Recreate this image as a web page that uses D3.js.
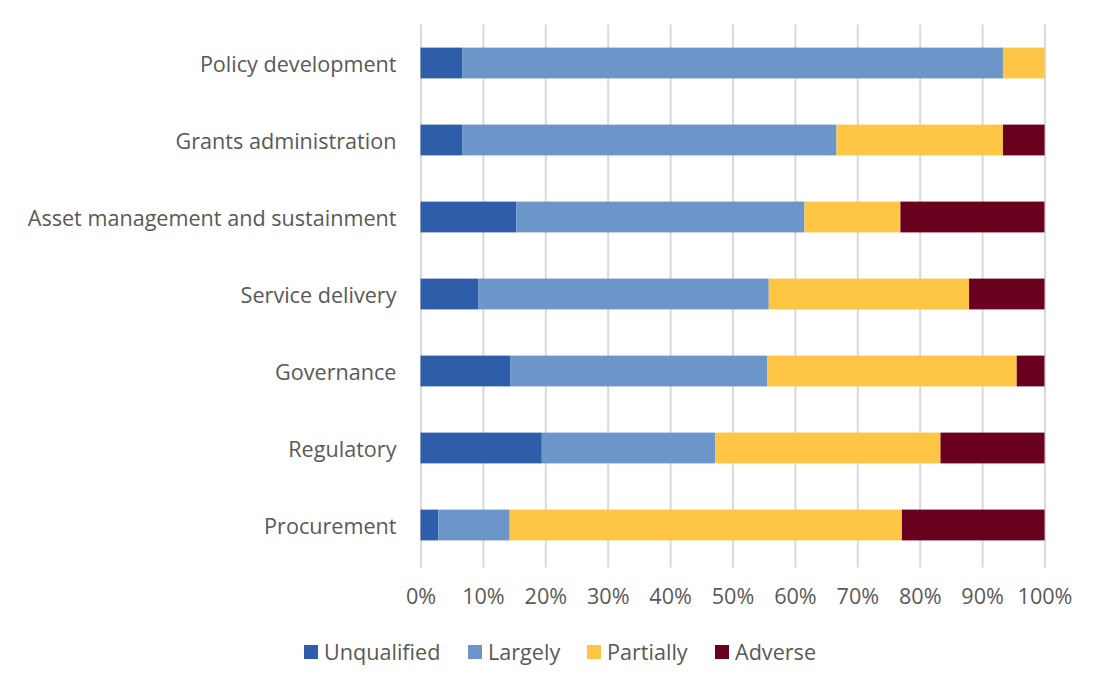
<!doctype html>
<html lang="en">
<head>
  <meta charset="utf-8">
  <title>Audit opinions by category</title>
</head>
<body style="overflow: hidden; margin: 0; background: #fff;">
  <script src="https://cdnjs.cloudflare.com/ajax/libs/d3/7.8.5/d3.min.js"></script>
  <script type="text/javascript">

    // categories, top to bottom
    const categories = [
      "Policy development",
      "Grants administration",
      "Asset management and sustainment",
      "Service delivery",
      "Governance",
      "Regulatory",
      "Procurement"
    ];

    const seriesNames = ["Unqualified", "Largely", "Partially", "Adverse"];
    const seriesColors = ["#2E5DA9", "#6C96C9", "#FFC545", "#68001E"];

    // shares in percent, one array per series, same order as categories
    const unqualified = [6.67, 6.67, 15.38, 9.30, 14.44, 19.44, 2.86];
    const largely     = [86.67, 60.00, 46.15, 46.51, 41.11, 27.78, 11.43];
    const partially   = [6.67, 26.67, 15.38, 32.10, 40.00, 36.11, 62.86];
    const adverse     = [0.00, 6.67, 23.08, 12.09, 4.44, 16.67, 22.86];

    const tickValues = [0, 10, 20, 30, 40, 50, 60, 70, 80, 90, 100];

    const config = {
      width: 1098,
      height: 688,
      left: 420.5,
      right: 1044.5,
      top: 24.5,
      bottom: 563.5,
      fontSize: "21.6px",
      font: "'Open Sans', 'Noto Sans', sans-serif",
      textColor: "#595959",
      gridColor: "#D9D9D9"
    };

    const rows = categories.map((c, i) => ({
      category: c,
      Unqualified: unqualified[i],
      Largely: largely[i],
      Partially: partially[i],
      Adverse: adverse[i]
    }));

    const stacked = d3.stack().keys(seriesNames)(rows);

    const svg = d3.select("body").append("svg")
      .attr("width", config.width)
      .attr("height", config.height)
      .style("font-family", config.font);

    const x = d3.scaleLinear()
      .domain([0, 100])
      .range([config.left, config.right]);

    const y = d3.scaleBand()
      .domain(categories)
      .range([config.top, config.bottom])
      .paddingInner(0.6)
      .paddingOuter(0.3);

    const color = d3.scaleOrdinal().domain(seriesNames).range(seriesColors);

    // gridlines + tick labels
    const xAxis = d3.axisBottom(x)
      .tickValues(tickValues)
      .tickSize(-(config.bottom - config.top) - 4)
      .tickPadding(21)
      .tickFormat(d => d + "%");

    const gx = svg.append("g")
      .attr("transform", "translate(0," + (config.bottom + 4) + ")")
      .call(xAxis);
    gx.select(".domain").remove();
    gx.selectAll(".tick line")
      .attr("stroke", config.gridColor)
      .attr("stroke-width", 2);
    gx.selectAll(".tick text")
      .attr("fill", config.textColor)
      .style("font-size", config.fontSize)
      .style("font-family", config.font);

    // bars
    svg.append("g")
      .selectAll("g")
      .data(stacked)
      .join("g")
      .attr("fill", d => color(d.key))
      .selectAll("rect")
      .data(d => d)
      .join("rect")
      .attr("x", d => x(d[0]))
      .attr("y", d => y(d.data.category))
      .attr("width", d => x(d[1]) - x(d[0]))
      .attr("height", y.bandwidth());

    // category labels
    const yAxis = d3.axisLeft(y).tickSize(0).tickPadding(24);
    const gy = svg.append("g")
      .attr("transform", "translate(" + config.left + ",0)")
      .call(yAxis);
    gy.select(".domain").remove();
    gy.selectAll(".tick text")
      .attr("fill", config.textColor)
      .attr("dy", "0.4em")
      .style("font-size", config.fontSize)
      .style("font-family", config.font);

    // legend
    const legendX = [304, 468, 587, 715];
    const legend = svg.append("g")
      .selectAll("g")
      .data(seriesNames)
      .join("g")
      .attr("transform", (d, i) => "translate(" + legendX[i] + ",645)");
    legend.append("rect")
      .attr("width", 14)
      .attr("height", 14)
      .attr("fill", d => color(d));
    legend.append("text")
      .attr("x", 20)
      .attr("y", 7)
      .attr("dy", "0.38em")
      .attr("fill", config.textColor)
      .style("font-size", config.fontSize)
      .text(d => d);

  </script>
</body>
</html>
